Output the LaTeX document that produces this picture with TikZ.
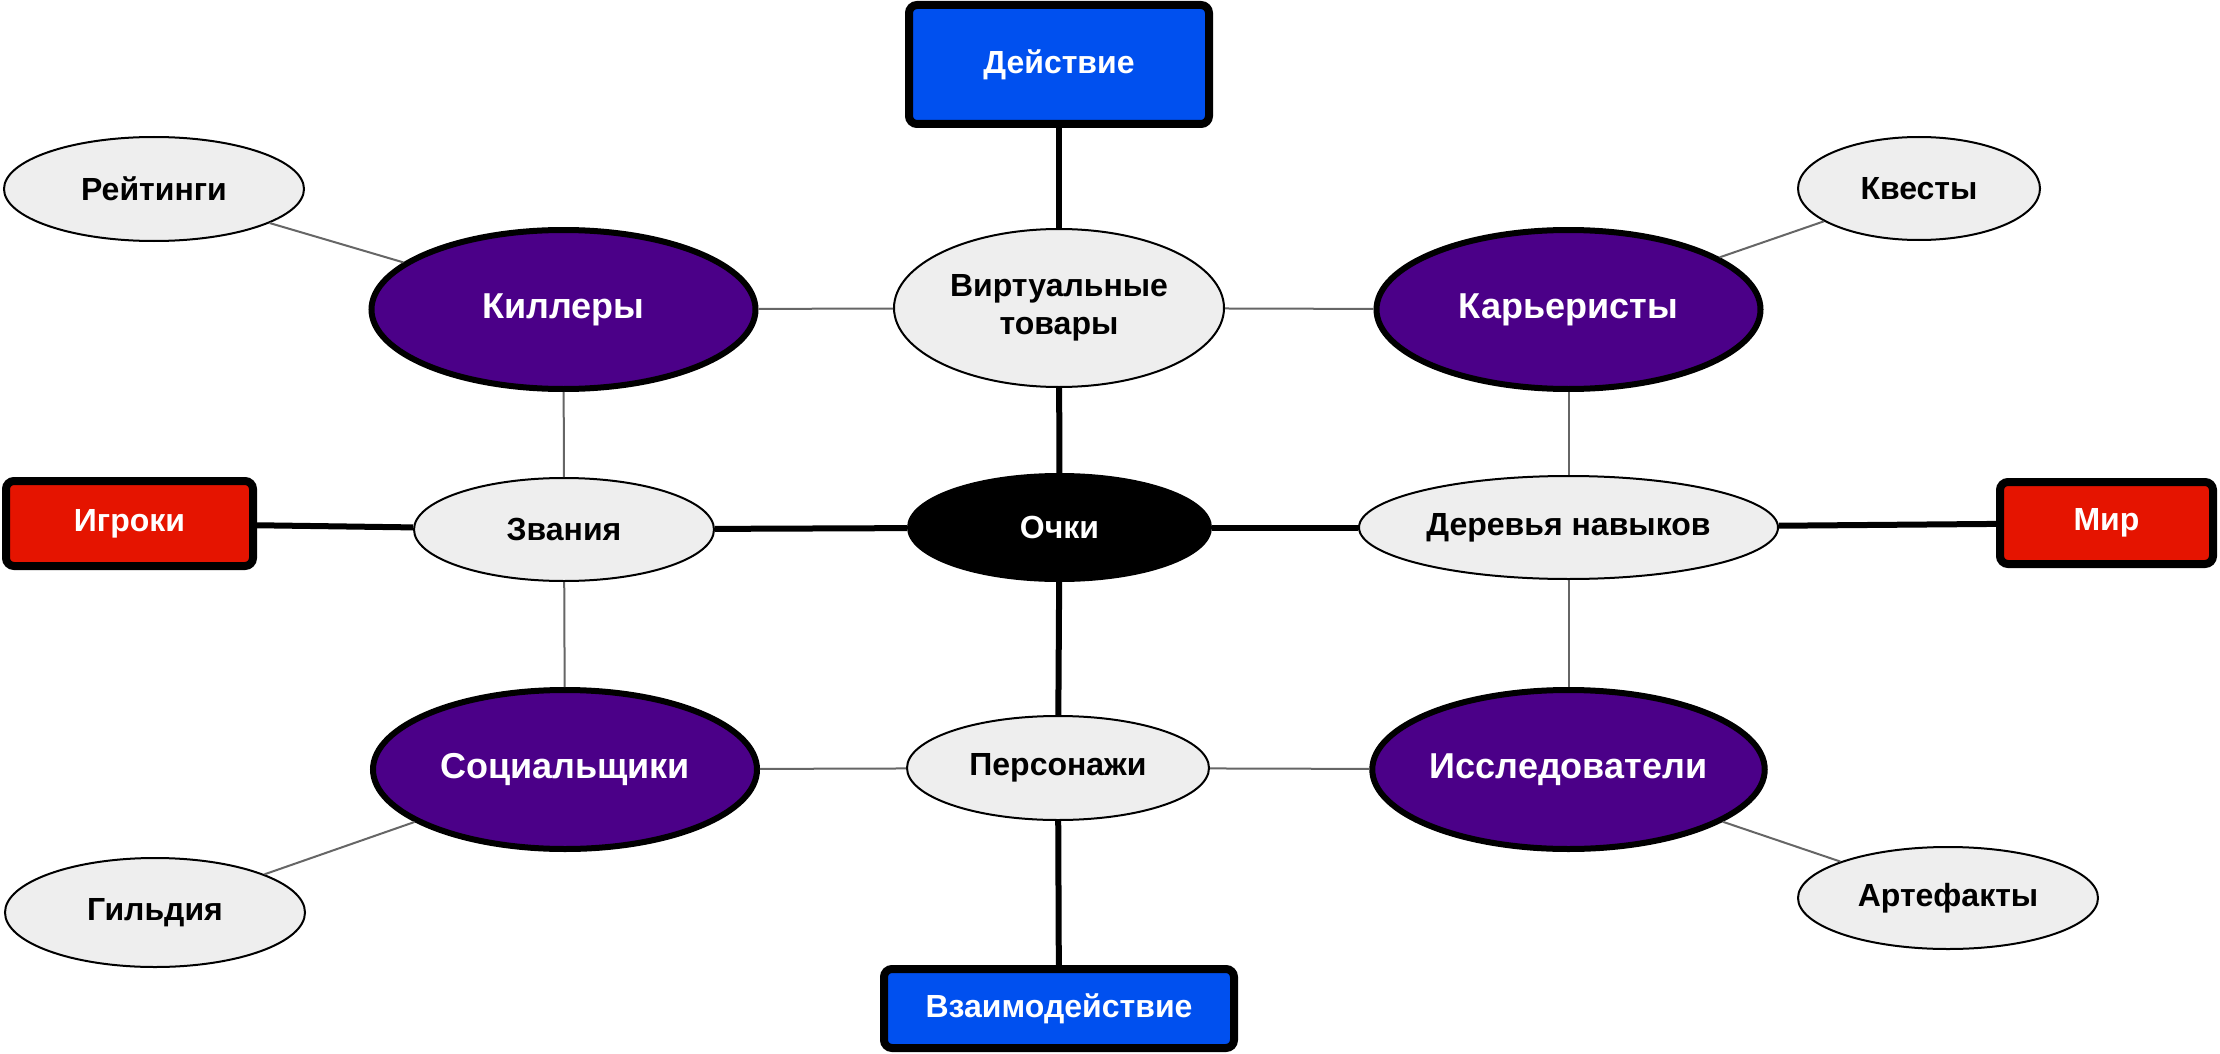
\documentclass[tikz,border=0pt]{standalone}
\usepackage{fontspec}
\setmainfont{Liberation Sans}
\usetikzlibrary{shapes.geometric}
\definecolor{cblue}{HTML}{0050EF}
\definecolor{cred}{HTML}{E51400}
\definecolor{cpurple}{HTML}{4B0088}
\definecolor{clight}{HTML}{EEEEEE}
\definecolor{cgray}{HTML}{666666}
\begin{document}
\begin{tikzpicture}[x=1pt,y=-1pt,
  boxnode/.style={rectangle, rounded corners=8pt, draw=black, line width=8pt, inner sep=0pt,
     text=white, font=\bfseries\fontsize{32pt}{38pt}\selectfont},
  bluebox/.style={boxnode, fill=cblue},
  redbox/.style={boxnode, fill=cred},
  roleell/.style={ellipse, draw=black, line width=6pt, fill=cpurple, inner sep=0pt,
     minimum width=384pt, minimum height=159pt, text=white,
     font=\bfseries\fontsize{36pt}{43pt}\selectfont},
  lightell/.style={ellipse, draw=black, line width=2pt, fill=clight, inner sep=0pt,
     text=black, align=center, font=\bfseries\fontsize{32pt}{38pt}\selectfont},
  coreell/.style={ellipse, draw=black, line width=2pt, fill=black, inner sep=0pt,
     text=white, font=\bfseries\fontsize{32pt}{38pt}\selectfont},
  thick link/.style={draw=black, line width=6pt},
  thin link/.style={draw=cgray, line width=2pt}]
\useasboundingbox (0,0) rectangle (2220,1054);

% main boxes
\node[bluebox, minimum width=300pt, minimum height=119pt] (act) at (1059,64.5) {Действие};
\node[bluebox, minimum width=350pt, minimum height=79pt] (inter) at (1059,1008.5) {Взаимодействие};
\node[redbox, minimum width=247pt, minimum height=85pt] (play) at (129.5,523.5) {Игроки};
\node[redbox, minimum width=213pt, minimum height=82pt] (world) at (2106.5,523) {Мир};

% core
\node[coreell, minimum width=303pt, minimum height=107pt] (pts) at (1059.5,527.5) {Очки};

% light ellipses
\node[lightell, minimum width=330pt, minimum height=158pt] (virt) at (1059,308) {Виртуальные\\товары};
\node[lightell, minimum width=300pt, minimum height=103pt] (ranks) at (564,529.5) {Звания};
\node[lightell, minimum width=419pt, minimum height=103pt] (tree) at (1568.5,527.5) {Деревья навыков};
\node[lightell, minimum width=302pt, minimum height=104pt] (pers) at (1058,768) {Персонажи};
\node[lightell, minimum width=300pt, minimum height=104pt] (rating) at (154,189) {Рейтинги};
\node[lightell, minimum width=242pt, minimum height=103pt] (quest) at (1919,188.5) {Квесты};
\node[lightell, minimum width=300pt, minimum height=109pt] (guild) at (155,912.5) {Гильдия};
\node[lightell, minimum width=300pt, minimum height=102pt] (artef) at (1948,898) {Артефакты};

% player types
\node[roleell] (kill) at (563.5,309.5) {Киллеры};
\node[roleell] (car) at (1568.5,309.5) {Карьеристы};
\node[roleell] (soc) at (565,769.5) {Социальщики};
\node[roleell] (expl) at (1568.5,769.5) {Исследователи};

% thick connectors
\draw[thick link] (act) -- (virt);
\draw[thick link] (virt) -- (pts);
\draw[thick link] (pts) -- (pers);
\draw[thick link] (pers) -- (inter);
\draw[thick link] (play) -- (ranks);
\draw[thick link] (ranks) -- (pts);
\draw[thick link] (pts) -- (tree);
\draw[thick link] (tree) -- (world);

% thin connectors
\draw[thin link] (rating) -- (kill);
\draw[thin link] (kill) -- (virt);
\draw[thin link] (virt) -- (car);
\draw[thin link] (car) -- (quest);
\draw[thin link] (kill) -- (ranks);
\draw[thin link] (ranks) -- (soc);
\draw[thin link] (soc) -- (pers);
\draw[thin link] (pers) -- (expl);
\draw[thin link] (car) -- (tree);
\draw[thin link] (tree) -- (expl);
\draw[thin link] (soc) -- (guild);
\draw[thin link] (expl) -- (artef);
\end{tikzpicture}
\end{document}
